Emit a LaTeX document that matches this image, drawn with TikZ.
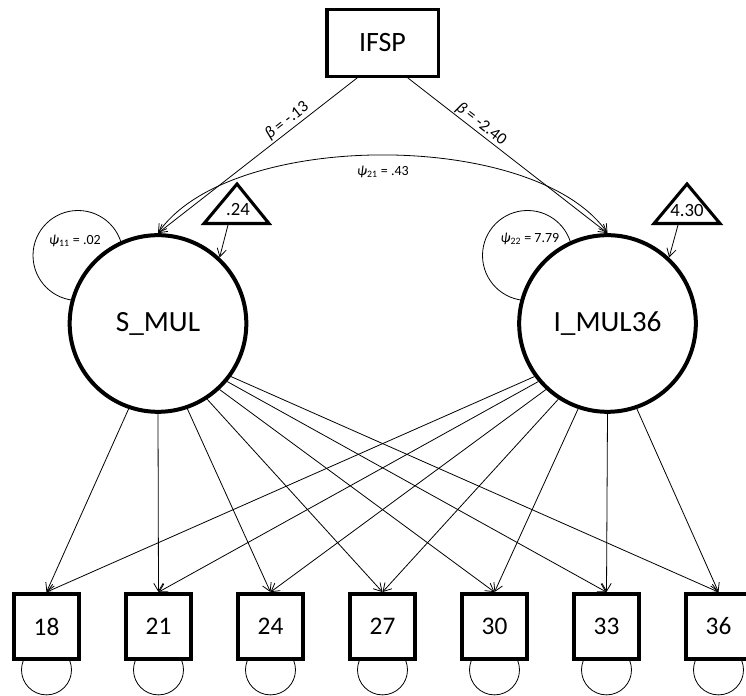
\documentclass[tikz,border=0pt]{standalone}
\usepackage{fontspec}
\setmainfont{Carlito}
\usetikzlibrary{arrows.meta,backgrounds}

\tikzset{
  obs/.style={draw, line width=2.6pt, fill=white, inner sep=0pt,
    minimum width=49pt, minimum height=49pt, font=\fontsize{19}{22}\selectfont},
  lat/.style={draw, circle, line width=3pt, fill=white, inner sep=0pt,
    minimum size=132.5pt, font=\fontsize{22}{26}\selectfont},
  path/.style={line width=0.6pt, -{Straight Barb[length=6pt,width=7pt]}},
  cov/.style={line width=0.6pt, {Straight Barb[length=6pt,width=7pt]}-{Straight Barb[length=6pt,width=7pt]}},
  lbl/.style={inner sep=1pt, font=\fontsize{10.5}{12}\selectfont},
  tri/.style={line width=2.3pt, line join=miter},
}

\begin{document}
\begin{tikzpicture}[x=0.75pt, y=0.75pt]
  \useasboundingbox (0,0) rectangle (746,696);

  \node[draw, line width=2.5pt, inner sep=0pt, minimum width=83.5pt, minimum height=50pt,
    font=\fontsize{21}{24}\selectfont] (IFSP) at (382.5,653) {IFSP};

  % 潜在変数
  \node[lat] (S) at (158,372.5) {S\_MUL};
  \node[lat] (I) at (607.5,372.5) {I\_MUL36};

  % 観測変数
  \foreach \v [count=\i from 0] in {18,21,...,36} {
    \node[obs] (o\v) at ({46.5+112*\i},69.5) {\v};
  }

  % 誤差
  \begin{pgfonlayer}{background}
    \foreach \v in {18,21,...,36} {
      \draw[line width=0.6pt] ([shift={(0,-9)}]o\v.south) circle[radius=25];
    }
    \draw[line width=0.6pt] ([shift={(-80,68)}]S.center) circle[radius=45];
    \draw[line width=0.6pt] ([shift={(-80,68)}]I.center) circle[radius=45];
  \end{pgfonlayer}

  % 切片
  \draw[tri] (204,472.5) -- (237,512) -- (269,472.5) -- cycle;
  \node[font=\fontsize{14}{16}\selectfont] (m1) at (238,486) {.24};
  \coordinate (t1) at (228,471);
  \draw[tri] (654,472.5) -- (687,512) -- (720,472.5) -- cycle;
  \node[font=\fontsize{14}{16}\selectfont] (m2) at (687,485) {4.30};
  \coordinate (t2) at (678,471);
  \draw[path] (t1) -- (S.47);
  \draw[path] (t2) -- (I.47);

  \draw[path] (IFSP.234) -- (S.north);
  \draw[path] (IFSP.-54) -- (I.north);
  \draw[cov] (S.north) .. controls +(72,104) and +(-72,104) .. (I.north);

  \foreach \b/\a in {18/251,21/270,24/289,27/303,30/313,33/320,36/324}
    \draw[path] (S.\a) -- (o\b.north);
  \foreach \b/\a in {18/216,21/220,24/227,27/237,30/251,33/270,36/289}
    \draw[path] (I.\a) -- (o\b.north);

  % ラベル
  \node[lbl, font=\fontsize{12.5}{14}\selectfont, rotate=38] (b1) at (287,575) {\textit{β} = -.13};
  \node[lbl, font=\fontsize{12.5}{14}\selectfont, rotate=-38] (b2) at (481,572) {\textit{β} = -2.40};
  \node[lbl] (p21) at (383,524) {\textit{ψ}\textsubscript{21} = .43};
  \node[lbl] (p11) at (75,455) {\textit{ψ}\textsubscript{11} = .02};
  \node[lbl] (p22) at (530,457) {\textit{ψ}\textsubscript{22} = 7.79};
\end{tikzpicture}
\end{document}
